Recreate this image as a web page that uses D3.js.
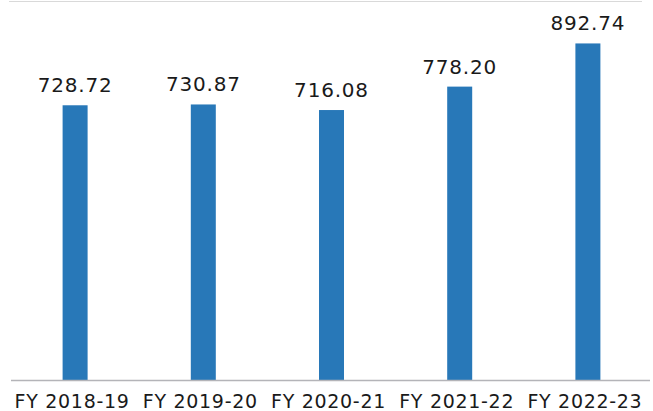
<!DOCTYPE html>
<html>
<head>
<meta charset="utf-8">
<script src="https://cdn.jsdelivr.net/npm/d3@7"></script>
<style>
  body { margin: 0; background: #fff; }
  svg { display: block; }
  text { font-family: "DejaVu Sans", sans-serif; fill: #1a1a1a; }
</style>
</head>
<body>
<div id="chart"></div>
<script>
var years  = ["FY 2018-19", "FY 2019-20", "FY 2020-21", "FY 2021-22", "FY 2022-23"];
var values = [728.72, 730.87, 716.08, 778.20, 892.74];

var width = 653, height = 411;

var x = d3.scaleBand().domain(years).range([11, 652]).paddingInner(0).paddingOuter(0);
var y = d3.scaleLinear().domain([0, 1000]).range([380, 3]);

var svg = d3.select("#chart").append("svg")
    .attr("width", width)
    .attr("height", height);

// top gridline
svg.append("line")
    .attr("x1", 9).attr("x2", 642)
    .attr("y1", y(1000) - 1.5).attr("y2", y(1000) - 1.5)
    .attr("stroke", "#d9d9d9").attr("stroke-width", 1);

var data = years.map(function(d, i) { return {year: d, value: values[i]}; });

var bw = 25;
svg.selectAll("rect.bar")
    .data(data)
  .enter().append("rect")
    .attr("class", "bar")
    .attr("x", function(d) { return x(d.year) + x.bandwidth() / 2 - bw / 2; })
    .attr("y", function(d) { return y(d.value); })
    .attr("width", bw)
    .attr("height", function(d) { return y(0) - y(d.value); })
    .attr("fill", "#2878b8");

svg.selectAll("text.val")
    .data(data)
  .enter().append("text")
    .attr("class", "val")
    .attr("x", function(d) { return x(d.year) + x.bandwidth() / 2; })
    .attr("y", function(d) { return y(d.value) - 13; })
    .attr("text-anchor", "middle")
    .style("font-size", "20px")
    .style("letter-spacing", "0.8px")
    .text(function(d) { return d.value.toFixed(2); });

// baseline
svg.append("line")
    .attr("x1", 11).attr("x2", 650)
    .attr("y1", y(0) + 0.5).attr("y2", y(0) + 0.5)
    .attr("stroke", "#b4b4b8").attr("stroke-width", 1.5);

var axis = d3.axisBottom(x).tickSize(0).tickPadding(0);
var gx = svg.append("g")
    .attr("transform", "translate(0," + 380 + ")")
    .call(axis);
gx.select(".domain").remove();
gx.selectAll("text")
    .attr("y", 28)
    .attr("dy", 0)
    .attr("dx", -3)
    .style("font-size", "19px")
    .style("letter-spacing", "0.7px")
    .style("font-family", "\"DejaVu Sans\", sans-serif")
    .attr("fill", "#1a1a1a");
</script>
</body>
</html>
